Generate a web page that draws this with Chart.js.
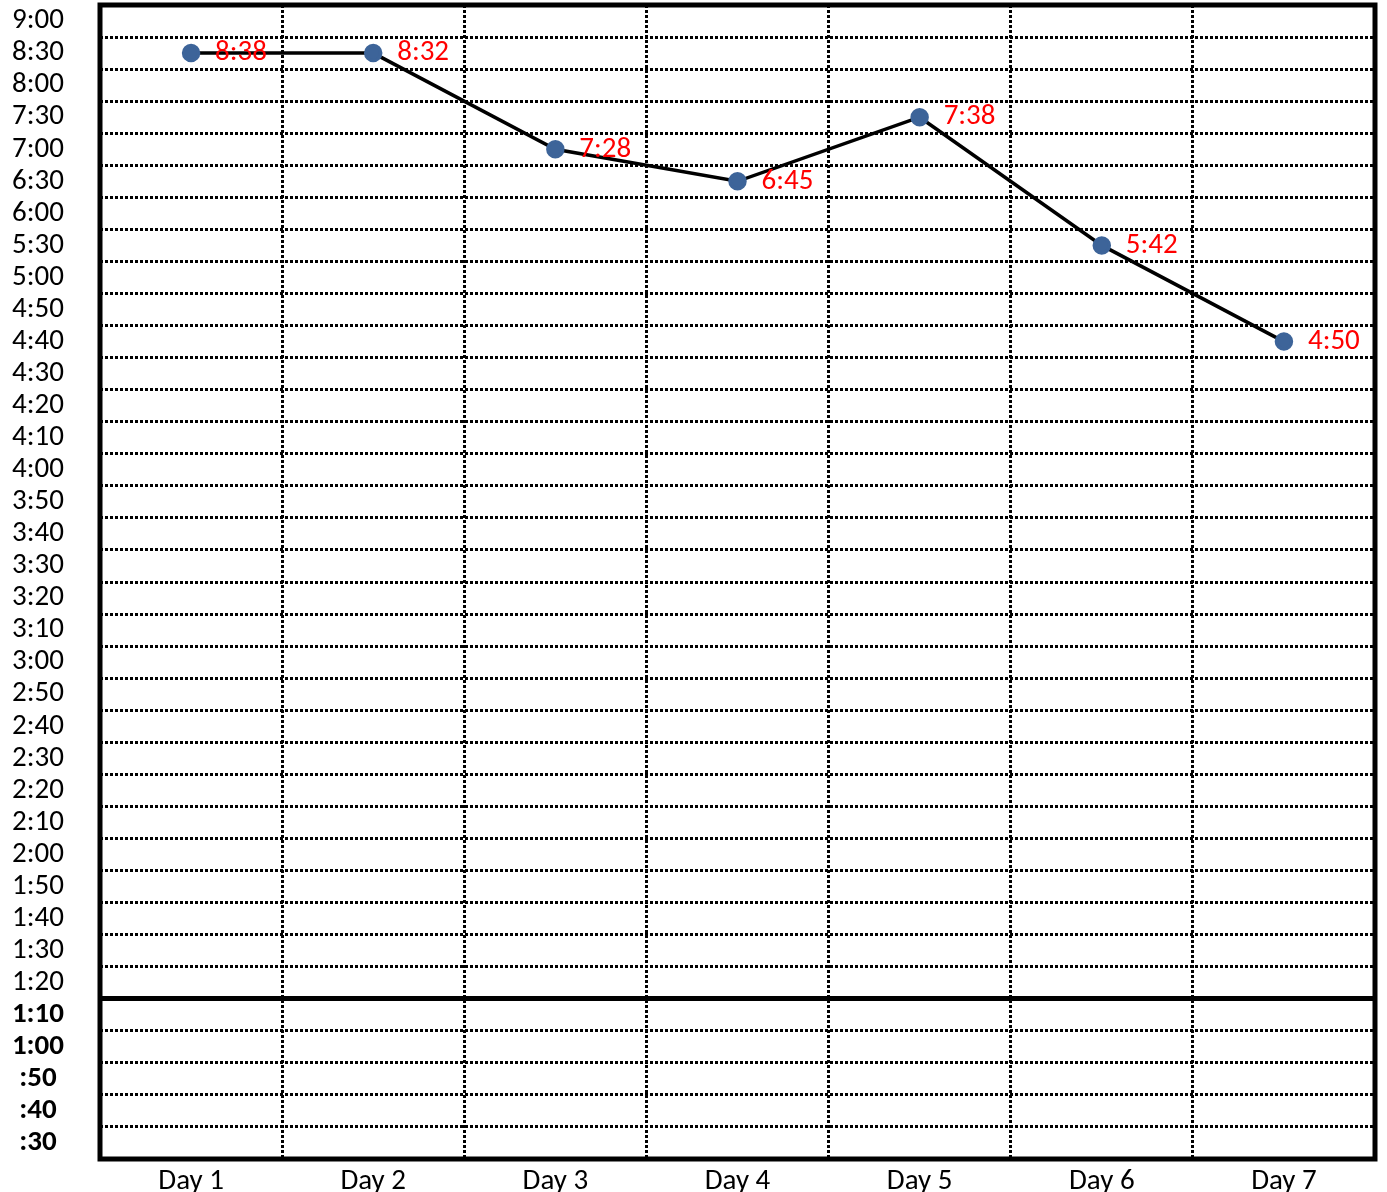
<!DOCTYPE html>
<html>
<head>
<meta charset="utf-8">
<script src="https://cdn.jsdelivr.net/npm/chart.js@4.4.1/dist/chart.umd.min.js"></script>
<style>
  html, body { margin: 0; padding: 0; background: #fff; }
  #wrap { width: 1387px; height: 1192px; }
</style>
</head>
<body>
<div id="wrap"><canvas id="chart"></canvas></div>
<script>
// days along the bottom
const days = ["Day 1", "Day 2", "Day 3", "Day 4", "Day 5", "Day 6", "Day 7"];

// time ticks on the left, top to bottom (evenly spaced rows)
const timeTicks = [
  "9:00", "8:30", "8:00", "7:30", "7:00", "6:30", "6:00", "5:30", "5:00",
  "4:50", "4:40", "4:30", "4:20", "4:10", "4:00", "3:50", "3:40", "3:30",
  "3:20", "3:10", "3:00", "2:50", "2:40", "2:30", "2:20", "2:10", "2:00",
  "1:50", "1:40", "1:30", "1:20", "1:10", "1:00", ":50", ":40", ":30"
];

// row each day's point sits on
const pointRows = ["8:30", "8:30", "7:00", "6:30", "7:30", "5:30", "4:40"];

// red text written next to each point
const pointTexts = ["8:38", "8:32", "7:28", "6:45", "7:38", "5:42", "4:50"];

const FONT = "Carlito, 'Open Sans', sans-serif";
const FONT_SIZE = 29;
const BOLD_FROM = timeTicks.indexOf("1:10");

// red labels beside the points
const pointTextPlugin = {
  id: "pointText",
  afterDatasetsDraw(chart) {
    const ctx = chart.ctx;
    const meta = chart.getDatasetMeta(0);
    ctx.save();
    ctx.font = FONT_SIZE + "px " + FONT;
    ctx.fillStyle = "#FF0000";
    ctx.textAlign = "left";
    ctx.textBaseline = "middle";
    meta.data.forEach((pt, i) => {
      ctx.fillText(pointTexts[i], pt.x + 24, pt.y);
    });
    ctx.restore();
  }
};

// heavy black frame round the plot
const framePlugin = {
  id: "frame",
  afterDraw(chart) {
    const { ctx, chartArea: a } = chart;
    ctx.save();
    ctx.strokeStyle = "#000";
    ctx.lineWidth = 5;
    ctx.strokeRect(a.left, a.top, a.right - a.left, a.bottom - a.top);
    ctx.restore();
  }
};

new Chart(document.getElementById("chart"), {
  type: "line",
  plugins: [pointTextPlugin, framePlugin],
  data: {
    labels: days,
    datasets: [{
      data: days.map((d, i) => ({ x: d, y: pointRows[i] })),
      borderColor: "#000",
      borderWidth: 3.5,
      pointRadius: 7.5,
      pointBackgroundColor: "#3D6499",
      pointBorderColor: "#3D6499",
      tension: 0
    }]
  },
  options: {
    responsive: true,
    maintainAspectRatio: false,
    animation: false,
    // bottom row of day labels runs slightly past the picture edge, as in the original
    layout: { autoPadding: false, padding: { left: 12, right: 12, top: 5, bottom: -12 } },
    plugins: {
      legend: { display: false },
      tooltip: { enabled: false }
    },
    scales: {
      x: {
        type: "category",
        offset: true,
        grid: { offset: true, color: "#000", lineWidth: 3, drawTicks: false },
        border: { display: false, dash: [3, 2] },
        ticks: {
          color: "#000",
          padding: 8,
          maxRotation: 0,
          font: { family: FONT, size: FONT_SIZE, lineHeight: 1.0 }
        }
      },
      y: {
        type: "category",
        labels: timeTicks,
        offset: true,
        afterFit(scale) {
          scale.width = 88;
          scale.paddingTop = 0;
          scale.paddingBottom = 0;
        },
        grid: {
          offset: true,
          color: "#000",
          drawTicks: false,
          lineWidth: (c) => (c.index === BOLD_FROM ? 5 : 3)
        },
        border: {
          display: false,
          dash: (c) => (c.index === BOLD_FROM ? [] : [3, 2])
        },
        ticks: {
          color: "#000",
          autoSkip: false,
          crossAlign: "center",
          padding: 36,
          font: (c) => ({
            family: FONT,
            size: FONT_SIZE,
            weight: c.index >= BOLD_FROM ? "bold" : "normal"
          })
        }
      }
    }
  }
});
</script>
</body>
</html>
